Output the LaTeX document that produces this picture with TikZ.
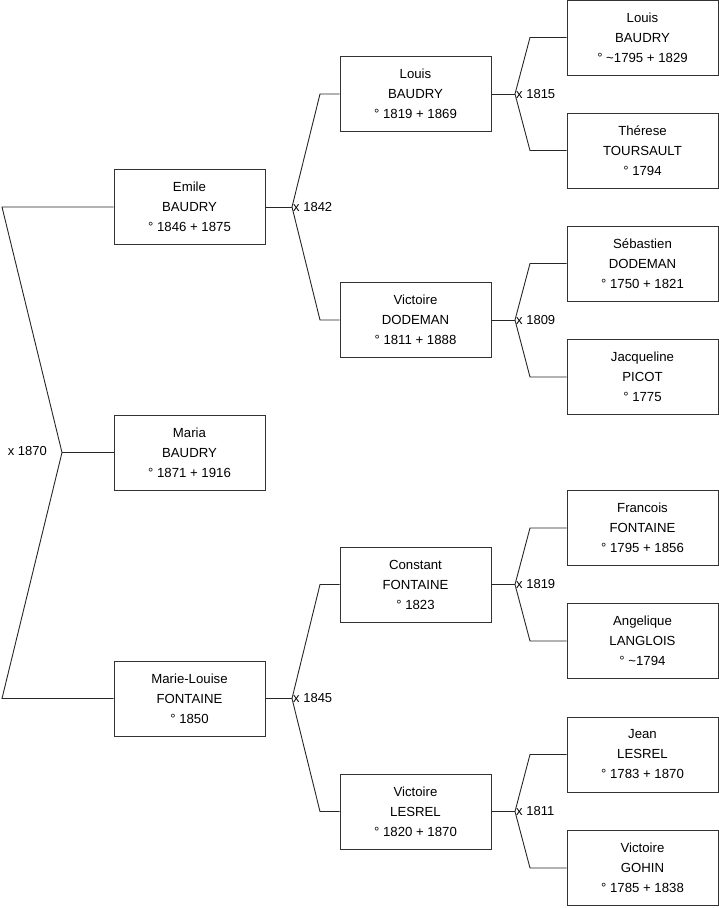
\documentclass[tikz,border=0pt]{standalone}
\usepackage{fontspec}
\setmainfont{Liberation Sans}
\begin{document}
\begin{tikzpicture}[x=1pt,y=-1pt,
  person/.style={draw=black!80, line width=0.9pt, fill=white, minimum width=151pt, minimum height=75pt,
    inner sep=0pt, align=center, font=\fontsize{13.2}{20}\selectfont},
  link/.style={draw=black!85, line width=0.9pt},
  mlabel/.style={font=\fontsize{13}{14}\selectfont, inner sep=1pt}]
\useasboundingbox (0,0) rectangle (719,908);
% column 1
\node[person] (emile) at (189.5,207) {Emile\\BAUDRY\\° 1846 + 1875};
\node[person] (maria) at (189.5,452.5) {Maria\\BAUDRY\\° 1871 + 1916};
\node[person] (ml) at (189.5,698.5) {Marie-Louise\\FONTAINE\\° 1850};
% column 2
\node[person] (louis) at (415.5,94) {Louis\\BAUDRY\\° 1819 + 1869};
\node[person] (vd) at (415.5,320) {Victoire\\DODEMAN\\° 1811 + 1888};
\node[person] (constant) at (415.5,584.5) {Constant\\FONTAINE\\° 1823};
\node[person] (vl) at (415.5,811.5) {Victoire\\LESREL\\° 1820 + 1870};
% column 3
\node[person] (louis2) at (642.5,37.5) {Louis\\BAUDRY\\° \textasciitilde1795 + 1829};
\node[person] (therese) at (642.5,150.5) {Thérese\\TOURSAULT\\° 1794};
\node[person] (seb) at (642.5,263.5) {Sébastien\\DODEMAN\\° 1750 + 1821};
\node[person] (jacq) at (642.5,377) {Jacqueline\\PICOT\\° 1775};
\node[person] (franc) at (642.5,528) {Francois\\FONTAINE\\° 1795 + 1856};
\node[person] (ang) at (642.5,641) {Angelique\\LANGLOIS\\° \textasciitilde1794};
\node[person] (jean) at (642.5,754.5) {Jean\\LESREL\\° 1783 + 1870};
\node[person] (vg) at (642.5,868) {Victoire\\GOHIN\\° 1785 + 1838};
% junctions
\coordinate (j0) at (62,452.5);
\coordinate (j1) at (292,207);
\coordinate (j2) at (292,698.5);
\coordinate (j3) at (515,94);
\coordinate (j4) at (515,320);
\coordinate (j5) at (515,584.5);
\coordinate (j6) at (515,811.5);
% connectors
\draw[link] (maria.west) -- (j0);
\draw[link] (j0) -- (2,207) -- (emile.west);
\draw[link] (j0) -- (2,698.5) -- (ml.west);
\draw[link] (emile.east) -- (j1);
\draw[link] (j1) -- (320,94) -- (louis.west);
\draw[link] (j1) -- (320,320) -- (vd.west);
\draw[link] (ml.east) -- (j2);
\draw[link] (j2) -- (320,584.5) -- (constant.west);
\draw[link] (j2) -- (320,811.5) -- (vl.west);
\draw[link] (louis.east) -- (j3);
\draw[link] (j3) -- (530,37.5) -- (louis2.west);
\draw[link] (j3) -- (530,150.5) -- (therese.west);
\draw[link] (vd.east) -- (j4);
\draw[link] (j4) -- (530,263.5) -- (seb.west);
\draw[link] (j4) -- (530,377) -- (jacq.west);
\draw[link] (constant.east) -- (j5);
\draw[link] (j5) -- (530,528) -- (franc.west);
\draw[link] (j5) -- (530,641) -- (ang.west);
\draw[link] (vl.east) -- (j6);
\draw[link] (j6) -- (530,754.5) -- (jean.west);
\draw[link] (j6) -- (530,868) -- (vg.west);
% marriage labels
\node[mlabel, anchor=east] (m0) at (48,451.5) {x 1870};
\node[mlabel, anchor=west] (m1) at (j1) {x 1842};
\node[mlabel, anchor=west] (m2) at (j2) {x 1845};
\node[mlabel, anchor=west] (m3) at (j3) {x 1815};
\node[mlabel, anchor=west] (m4) at (j4) {x 1809};
\node[mlabel, anchor=west] (m5) at (j5) {x 1819};
\node[mlabel, anchor=west] (m6) at (j6) {x 1811};
\end{tikzpicture}
\end{document}
